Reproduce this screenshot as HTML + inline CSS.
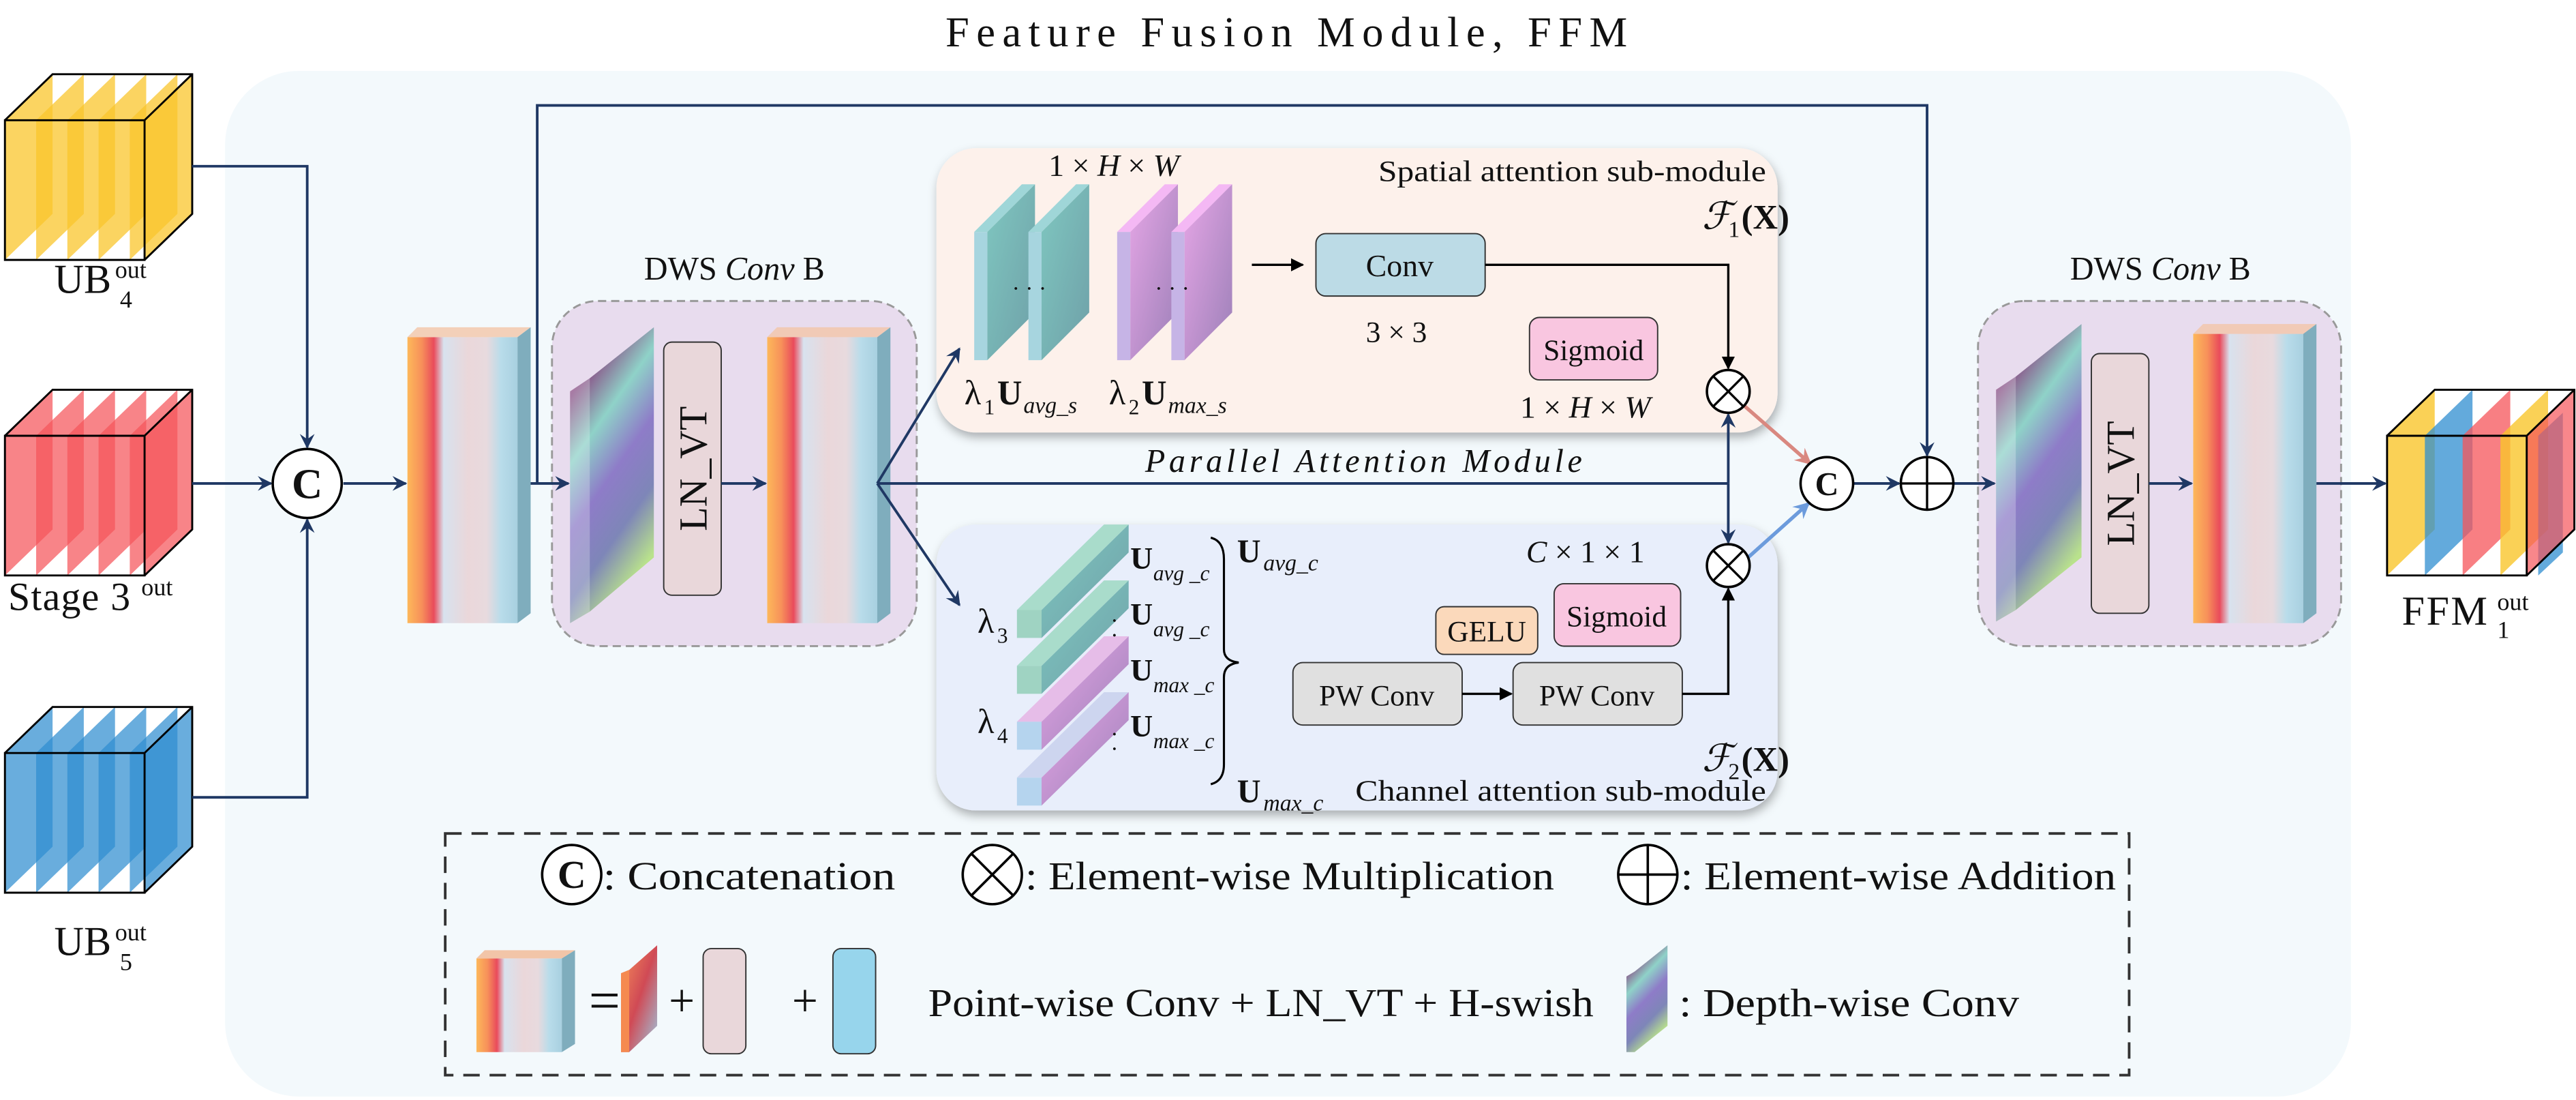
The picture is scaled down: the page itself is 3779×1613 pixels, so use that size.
<!DOCTYPE html>
<html><head><meta charset="utf-8"><style>
html,body{margin:0;padding:0;background:#fff;}
svg{display:block;}
text{font-family:"Liberation Serif","DejaVu Serif",serif;fill:#111;}
</style></head><body>
<svg width="3779" height="1613" viewBox="0 0 1568 669" xmlns="http://www.w3.org/2000/svg">
<defs>
<marker id="an" viewBox="0 0 10 10" refX="9" refY="5" markerWidth="9" markerHeight="9" orient="auto" markerUnits="userSpaceOnUse"><path d="M0,0 L10,5 L0,10 L3.5,5z" fill="#1f3864"/></marker>
<marker id="ab" viewBox="0 0 10 10" refX="9" refY="5" markerWidth="8" markerHeight="8" orient="auto" markerUnits="userSpaceOnUse"><path d="M0,0 L10,5 L0,10z" fill="#000"/></marker>
<marker id="ar" viewBox="0 0 10 10" refX="9" refY="5" markerWidth="10" markerHeight="10" orient="auto" markerUnits="userSpaceOnUse"><path d="M0,0 L10,5 L0,10 L3.5,5z" fill="#d98880"/></marker>
<marker id="al" viewBox="0 0 10 10" refX="9" refY="5" markerWidth="10" markerHeight="10" orient="auto" markerUnits="userSpaceOnUse"><path d="M0,0 L10,5 L0,10 L3.5,5z" fill="#6c9bdc"/></marker>
<linearGradient id="bar" x1="0" x2="1" y1="0" y2="0">
<stop offset="0" stop-color="#fdb85a"/><stop offset="0.13" stop-color="#f7905a"/><stop offset="0.24" stop-color="#e94b5b"/><stop offset="0.33" stop-color="#d8e2ee"/><stop offset="0.55" stop-color="#ead7da"/><stop offset="0.72" stop-color="#e8dade"/><stop offset="0.85" stop-color="#b9dcea"/><stop offset="1" stop-color="#a8d0e0"/></linearGradient>
<linearGradient id="plate" x1="0" x2="0.4" y1="0" y2="1">
<stop offset="0" stop-color="#d9a0d0"/><stop offset="0.2" stop-color="#8a4f86"/><stop offset="0.4" stop-color="#8fd2c8"/><stop offset="0.6" stop-color="#8e7cc8"/><stop offset="0.8" stop-color="#7e86b8"/><stop offset="1" stop-color="#b9e28c"/></linearGradient>
<linearGradient id="teal" x1="0" x2="1" y1="0" y2="1"><stop offset="0" stop-color="#7fc7c0"/><stop offset="1" stop-color="#6fa0a8"/></linearGradient>
<linearGradient id="purp" x1="0" x2="1" y1="0" y2="1"><stop offset="0" stop-color="#e6a6e6"/><stop offset="1" stop-color="#9c80b8"/></linearGradient>
<linearGradient id="pw" x1="0" x2="1" y1="0" y2="1"><stop offset="0" stop-color="#f7905a"/><stop offset="0.5" stop-color="#d04a55"/><stop offset="1" stop-color="#9cc8e0"/></linearGradient>
<filter id="sh" x="-5%" y="-5%" width="110%" height="115%"><feDropShadow dx="1" dy="3" stdDeviation="3" flood-color="#000" flood-opacity="0.3"/></filter>
</defs>

<text x="783" y="28" font-size="26" text-anchor="middle" textLength="415" lengthAdjust="spacing">Feature Fusion Module, FFM</text>
<rect x="137" y="43" width="1294" height="624" rx="45" fill="#f3f9fc"/>

<!-- UB4 -->
<g>
<rect x="3" y="73" width="85" height="85" fill="#fff"/>
<g fill="#f9c52c" fill-opacity="0.75">
<polygon points="3,158 3,73 32,45 32,130"/><polygon points="22,158 22,73 51,45 51,130"/><polygon points="41,158 41,73 70,45 70,130"/><polygon points="60,158 60,73 89,45 89,130"/><polygon points="79,158 79,73 108,45 108,130"/><polygon points="88,158 88,73 117,45 117,130"/></g>
<path d="M3,73 H88 V158 H3Z M3,73 L32,45 H117 V130 L88,158 M88,73 L117,45" fill="none" stroke="#000" stroke-width="1.2"/>
</g>
<g>
<rect x="3" y="265" width="85" height="85" fill="#fff"/>
<g fill="#f5545a" fill-opacity="0.72">
<polygon points="3,350 3,265 32,237 32,322"/><polygon points="22,350 22,265 51,237 51,322"/><polygon points="41,350 41,265 70,237 70,322"/><polygon points="60,350 60,265 89,237 89,322"/><polygon points="79,350 79,265 108,237 108,322"/><polygon points="88,350 88,265 117,237 117,322"/></g>
<path d="M3,265 H88 V350 H3Z M3,265 L32,237 H117 V322 L88,350 M88,265 L117,237" fill="none" stroke="#000" stroke-width="1.2"/>
</g>
<g>
<rect x="3" y="458" width="85" height="85" fill="#fff"/>
<g fill="#2f8ed0" fill-opacity="0.72">
<polygon points="3,543 3,458 32,430 32,515"/><polygon points="22,543 22,458 51,430 51,515"/><polygon points="41,543 41,458 70,430 70,515"/><polygon points="60,543 60,458 89,430 89,515"/><polygon points="79,543 79,458 108,430 108,515"/><polygon points="88,543 88,458 117,430 117,515"/></g>
<path d="M3,458 H88 V543 H3Z M3,458 L32,430 H117 V515 L88,543 M88,458 L117,430" fill="none" stroke="#000" stroke-width="1.2"/>
</g>
<g>
<rect x="1453" y="265" width="85" height="85" fill="#fff"/>
<polygon points="1453,350 1453,265 1482,237 1482,322" fill="#f9c52c" fill-opacity="0.8"/>
<polygon points="1476,350 1476,265 1505,237 1505,322" fill="#2f8ed0" fill-opacity="0.75"/>
<polygon points="1499,350 1499,265 1528,237 1528,322" fill="#f5545a" fill-opacity="0.75"/>
<polygon points="1522,350 1522,265 1551,237 1551,322" fill="#f9c52c" fill-opacity="0.8"/>
<polygon points="1545,350 1545,265 1560,251 1560,336" fill="#2f8ed0" fill-opacity="0.75"/>
<polygon points="1538,350 1538,265 1567,237 1567,322" fill="#f5545a" fill-opacity="0.7"/>
<path d="M1453,265 H1538 V350 H1453Z M1453,265 L1482,237 H1567 V322 L1538,350 M1538,265 L1567,237" fill="none" stroke="#000" stroke-width="1.2"/>
</g>
<text x="33" y="178" font-size="25">UB</text><text x="70" y="169" font-size="15">out</text><text x="73" y="187" font-size="15">4</text>
<text x="5" y="371" font-size="24" letter-spacing="0.5">Stage 3</text><text x="86" y="362" font-size="15">out</text>
<text x="33" y="581" font-size="25">UB</text><text x="70" y="572" font-size="15">out</text><text x="73" y="590" font-size="15">5</text>
<text x="1462" y="380" font-size="25" letter-spacing="1">FFM</text><text x="1520" y="371" font-size="15">out</text><text x="1520" y="388" font-size="15">1</text>

<g>
<rect x="248" y="205" width="67" height="174" fill="url(#bar)"/>
<polygon points="248,205 254,199 323,199 315,205" fill="#f2c5a8" opacity="0.8"/>
<polygon points="315,205 323,199 323,373 315,379" fill="#7fadbd"/>
</g>

<rect x="336" y="183" width="222" height="210" rx="28" fill="#e8dcee" stroke="#999" stroke-width="1.2" stroke-dasharray="5,3"/>
<text x="447" y="170" font-size="20" text-anchor="middle">DWS <tspan font-style="italic">Conv</tspan> B</text>
<polygon points="347,238 359,230 398,199 398,339 359,372 347,379" fill="url(#plate)"/>
<polygon points="347,238 359,230 359,372 347,379" fill="#ffffff" fill-opacity="0.25"/>
<rect x="404" y="208" width="35" height="154" rx="5" fill="#e9d7da" stroke="#333" stroke-width="0.8"/>
<text transform="translate(430,285) rotate(-90)" font-size="24" text-anchor="middle">LN_VT</text>
<rect x="467" y="205" width="67" height="174" fill="url(#bar)"/>
<polygon points="467,205 473,199 542,199 534,205" fill="#f2c5a8" opacity="0.8"/>
<polygon points="534,205 542,199 542,373 534,379" fill="#7fadbd"/>

<rect x="1204" y="183" width="221" height="210" rx="28" fill="#e8dcee" stroke="#999" stroke-width="1.2" stroke-dasharray="5,3"/>
<text x="1315" y="170" font-size="20" text-anchor="middle">DWS <tspan font-style="italic">Conv</tspan> B</text>
<polygon points="1215,237 1227,229 1267,197 1267,339 1227,371 1215,378" fill="url(#plate)"/>
<polygon points="1215,237 1227,229 1227,371 1215,378" fill="#ffffff" fill-opacity="0.25"/>
<rect x="1273" y="215" width="35" height="158" rx="5" fill="#e9d7da" stroke="#333" stroke-width="0.8"/>
<text transform="translate(1299,294) rotate(-90)" font-size="24" text-anchor="middle">LN_VT</text>
<rect x="1335" y="203" width="67" height="176" fill="url(#bar)"/>
<polygon points="1335,203 1341,197 1410,197 1402,203" fill="#f2c5a8" opacity="0.8"/>
<polygon points="1402,203 1410,197 1410,373 1402,379" fill="#7fadbd"/>

<rect x="570" y="90" width="512" height="173" rx="24" fill="#fdf1eb" filter="url(#sh)"/>
<text x="678" y="107" font-size="19" text-anchor="middle">1 × <tspan font-style="italic">H</tspan> × <tspan font-style="italic">W</tspan></text>
<text x="1075" y="110" font-size="18" text-anchor="end" textLength="236" lengthAdjust="spacingAndGlyphs">Spatial attention sub-module</text>
<text x="1036" y="139" font-size="23" font-style="italic">ℱ</text><text x="1052" y="144" font-size="14">1</text><text x="1060" y="139" font-size="21" font-weight="bold">(X)</text>
<g>
<polygon points="593,141 622,112 630,112 601,141" fill="#9fd6d8"/>
<polygon points="601,141 630,112 630,190 601,219" fill="url(#teal)"/>
<rect x="593" y="141" width="8" height="78" fill="#a7d5df"/>
<polygon points="626,141 655,112 663,112 634,141" fill="#9fd6d8"/>
<polygon points="634,141 663,112 663,190 634,219" fill="url(#teal)"/>
<rect x="626" y="141" width="8" height="78" fill="#a7d5df"/>
<text x="616" y="180" font-size="14" fill="#234">· · ·</text>
<polygon points="680,141 709,112 717,112 688,141" fill="#f4b8f4"/>
<polygon points="688,141 717,112 717,190 688,219" fill="url(#purp)"/>
<rect x="680" y="141" width="8" height="78" fill="#c6b4e6"/>
<polygon points="713,141 742,112 750,112 721,141" fill="#f4b8f4"/>
<polygon points="721,141 750,112 750,190 721,219" fill="url(#purp)"/>
<rect x="713" y="141" width="8" height="78" fill="#c6b4e6"/>
<text x="703" y="180" font-size="14" fill="#234">· · ·</text>
</g>
<text x="587" y="246" font-size="21">λ</text><text x="599" y="252" font-size="13">1</text><text x="607" y="246" font-size="21" font-weight="bold">U</text><text x="623" y="251" font-size="14" font-style="italic">avg_s</text>
<text x="675" y="246" font-size="21">λ</text><text x="687" y="252" font-size="13">2</text><text x="695" y="246" font-size="21" font-weight="bold">U</text><text x="711" y="251" font-size="14" font-style="italic">max_s</text>
<line x1="762" y1="161" x2="793" y2="161" stroke="#000" stroke-width="1.4" marker-end="url(#ab)"/>
<rect x="801" y="142" width="103" height="38" rx="6" fill="#bcdbe6" stroke="#333" stroke-width="0.8"/>
<text x="852" y="168" font-size="19" text-anchor="middle">Conv</text>
<text x="850" y="208" font-size="18" text-anchor="middle">3 × 3</text>
<rect x="931" y="193" width="78" height="38" rx="6" fill="#f9c6e0" stroke="#333" stroke-width="0.8"/>
<text x="970" y="219" font-size="18" text-anchor="middle">Sigmoid</text>
<text x="965" y="254" font-size="19" text-anchor="middle">1 × <tspan font-style="italic">H</tspan> × <tspan font-style="italic">W</tspan></text>

<rect x="570" y="319" width="512" height="174" rx="24" fill="#e8eefb" filter="url(#sh)"/>
<g>
<polygon points="619,473 672,421 687,421 634,473" fill="#cdd5ef"/><polygon points="634,473 687,421 687,438 634,490" fill="url(#purp)"/><rect x="619" y="473" width="15" height="17" fill="#b5d4ee"/>
<polygon points="619,439 672,387 687,387 634,439" fill="#e6bde8"/><polygon points="634,439 687,387 687,404 634,456" fill="url(#purp)"/><rect x="619" y="439" width="15" height="17" fill="#b5d4ee"/>
<polygon points="619,405 672,353 687,353 634,405" fill="#a9dccb"/><polygon points="634,405 687,353 687,370 634,422" fill="url(#teal)"/><rect x="619" y="405" width="15" height="17" fill="#9fd3c2"/>
<polygon points="619,371 672,319 687,319 634,371" fill="#a9dccb"/><polygon points="634,371 687,319 687,336 634,388" fill="url(#teal)"/><rect x="619" y="371" width="15" height="17" fill="#9fd3c2"/>
<text x="676" y="382" font-size="14" fill="#234">·</text><text x="676" y="391" font-size="14" fill="#234">·</text>
<text x="676" y="451" font-size="14" fill="#234">·</text><text x="676" y="460" font-size="14" fill="#234">·</text>
</g>
<text x="595" y="385" font-size="21">λ</text><text x="607" y="391" font-size="13">3</text>
<text x="595" y="446" font-size="21">λ</text><text x="607" y="452" font-size="13">4</text>
<text x="688" y="346" font-size="19" font-weight="bold">U</text><text x="702" y="353" font-size="13" font-style="italic">avg _c</text>
<text x="688" y="380" font-size="19" font-weight="bold">U</text><text x="702" y="387" font-size="13" font-style="italic">avg _c</text>
<text x="688" y="414" font-size="19" font-weight="bold">U</text><text x="702" y="421" font-size="13" font-style="italic">max _c</text>
<text x="688" y="448" font-size="19" font-weight="bold">U</text><text x="702" y="455" font-size="13" font-style="italic">max _c</text>
<path d="M737,327 Q745,329 745,340 V395 Q745,402 754,403 Q745,404 745,412 V465 Q745,475 737,477" fill="none" stroke="#000" stroke-width="1.3"/>
<text x="753" y="342" font-size="20" font-weight="bold">U</text><text x="769" y="347" font-size="14" font-style="italic">avg_c</text>
<text x="753" y="488" font-size="20" font-weight="bold">U</text><text x="769" y="493" font-size="14" font-style="italic">max_c</text>
<text x="1075" y="487" font-size="18" text-anchor="end" textLength="250" lengthAdjust="spacingAndGlyphs">Channel attention sub-module</text>
<text x="965" y="342" font-size="19" text-anchor="middle"><tspan font-style="italic">C</tspan> × 1 × 1</text>
<rect x="874" y="369" width="62" height="29" rx="5" fill="#fbd9bb" stroke="#333" stroke-width="0.8"/>
<text x="905" y="390" font-size="18" text-anchor="middle">GELU</text>
<rect x="946" y="355" width="77" height="38" rx="6" fill="#f9c6e0" stroke="#333" stroke-width="0.8"/>
<text x="984" y="381" font-size="18" text-anchor="middle">Sigmoid</text>
<rect x="787" y="403" width="103" height="38" rx="6" fill="#e0e0e0" stroke="#333" stroke-width="0.8"/>
<text x="838" y="429" font-size="18" text-anchor="middle">PW Conv</text>
<rect x="921" y="403" width="103" height="38" rx="6" fill="#e0e0e0" stroke="#333" stroke-width="0.8"/>
<text x="972" y="429" font-size="18" text-anchor="middle">PW Conv</text>
<text x="1036" y="469" font-size="23" font-style="italic">ℱ</text><text x="1052" y="474" font-size="14">2</text><text x="1060" y="469" font-size="21" font-weight="bold">(X)</text>

<text x="697" y="287" font-size="20" font-style="italic" textLength="266" lengthAdjust="spacing">Parallel Attention Module</text>

<g fill="none" stroke="#1f3864" stroke-width="1.6">
<path d="M117,101 H187 V272" marker-end="url(#an)"/>
<path d="M117,294 H165" marker-end="url(#an)"/>
<path d="M117,485 H187 V316" marker-end="url(#an)"/>
<path d="M209,294 H247" marker-end="url(#an)"/>
<path d="M327,294 V64 H1173 V277" marker-end="url(#an)"/>
<path d="M323,294 H346" marker-end="url(#an)"/>
<path d="M439,294 H466" marker-end="url(#an)"/>
<path d="M534,294 L584,212" marker-end="url(#an)"/>
<path d="M534,294 L584,368" marker-end="url(#an)"/>
<path d="M534,294 H1052"/>
<path d="M1052,294 V252" marker-end="url(#an)"/>
<path d="M1052,294 V330" marker-end="url(#an)"/>
<path d="M1128,294 H1156" marker-end="url(#an)"/>
<path d="M1189,294 H1214" marker-end="url(#an)"/>
<path d="M1308,294 H1334" marker-end="url(#an)"/>
<path d="M1410,294 H1452" marker-end="url(#an)"/>
</g>
<g fill="none" stroke="#000" stroke-width="1.4">
<path d="M904,161 H1052 V224" marker-end="url(#ab)"/>
<path d="M890,422 H920" marker-end="url(#ab)"/>
<path d="M1024,422 H1052 V358" marker-end="url(#ab)"/>
</g>
<path d="M1062,247 L1102,282" stroke="#d98880" stroke-width="2.2" fill="none" marker-end="url(#ar)"/>
<path d="M1063,340 L1101,306" stroke="#6c9bdc" stroke-width="2.2" fill="none" marker-end="url(#al)"/>

<g stroke="#000" stroke-width="1.5" fill="#fff">
<circle cx="187" cy="294" r="21"/>
<circle cx="1112" cy="294" r="16"/>
<circle cx="1173" cy="294" r="16"/>
<circle cx="1052" cy="238" r="13"/>
<circle cx="1052" cy="344" r="13"/>
</g>
<g stroke="#000" stroke-width="1.4">
<path d="M1157,294 H1189 M1173,278 V310"/>
<path d="M1043,229 L1061,247 M1061,229 L1043,247"/>
<path d="M1043,335 L1061,353 M1061,335 L1043,353"/>
</g>
<text x="187" y="303" font-size="26" font-weight="bold" text-anchor="middle">C</text>
<text x="1112" y="301" font-size="20" font-weight="bold" text-anchor="middle">C</text>

<rect x="271" y="507" width="1025" height="147" fill="none" stroke="#333" stroke-width="1.6" stroke-dasharray="10,6"/>
<circle cx="348" cy="532" r="18" fill="#fff" stroke="#000" stroke-width="1.5"/>
<text x="348" y="540" font-size="24" font-weight="bold" text-anchor="middle">C</text>
<text x="367" y="541" font-size="24" textLength="178" lengthAdjust="spacingAndGlyphs">: Concatenation</text>
<circle cx="604" cy="532" r="18" fill="#fff" stroke="#000" stroke-width="1.5"/>
<path d="M591,519 L617,545 M617,519 L591,545" stroke="#000" stroke-width="1.5"/>
<text x="624" y="541" font-size="24" textLength="322" lengthAdjust="spacingAndGlyphs">: Element-wise Multiplication</text>
<circle cx="1003" cy="532" r="18" fill="#fff" stroke="#000" stroke-width="1.5"/>
<path d="M985,532 H1021 M1003,514 V550" stroke="#000" stroke-width="1.5"/>
<text x="1023" y="541" font-size="24" textLength="265" lengthAdjust="spacingAndGlyphs">: Element-wise Addition</text>
<rect x="290" y="583" width="52" height="57" fill="url(#bar)"/>
<polygon points="290,583 295,578 350,578 342,583" fill="#f2c5a8"/>
<polygon points="342,583 350,578 350,635 342,640" fill="#7fadbd"/>
<text x="368" y="620" font-size="34" text-anchor="middle">=</text>
<polygon points="378,592 383,590 400,575 400,624 383,640 378,640" fill="url(#pw)"/>
<polygon points="378,592 383,590 383,640 378,640" fill="#f58a50"/>
<text x="415" y="618" font-size="28" text-anchor="middle">+</text>
<rect x="428" y="577" width="26" height="64" rx="5" fill="#e9d7da" stroke="#333" stroke-width="0.8"/>
<text x="490" y="618" font-size="28" text-anchor="middle">+</text>
<rect x="507" y="577" width="26" height="64" rx="5" fill="#97d5ec" stroke="#333" stroke-width="0.8"/>
<text x="565" y="618" font-size="24" textLength="405" lengthAdjust="spacingAndGlyphs">Point-wise Conv + LN_VT + H-swish</text>
<polygon points="990,594 995,591 1015,575 1015,624 995,640 990,640" fill="url(#plate)"/>
<text x="1022" y="618" font-size="24" textLength="207" lengthAdjust="spacingAndGlyphs">: Depth-wise Conv</text>
</svg>
</body></html>
